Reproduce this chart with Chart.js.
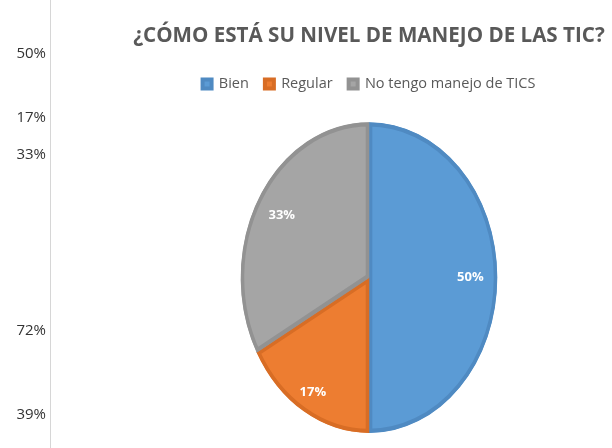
<!DOCTYPE html>
<html>
<head>
<meta charset="utf-8">
<script src="https://cdn.jsdelivr.net/npm/chart.js@4"></script>
<style>
  body { margin: 0; background: #fff; }
  #wrap { position: relative; width: 612px; height: 448px; overflow: hidden; }
  #rule { position: absolute; left: 50px; top: 0; width: 1px; height: 448px; background: #d6d6d6; }
  .side { position: absolute; right: 566px; font: 15px "Open Sans", sans-serif; color: #333; transform: translateY(-50%); }
  canvas { position: absolute; left: 0; top: 0; }
</style>
</head>
<body>
<div id="wrap">
  <div id="rule"></div>
  <canvas id="myChart" width="612" height="448"></canvas>
</div>
<script>
const categories = ['Bien', 'Regular', 'No tengo manejo de TICS'];
const values = [50, 17, 33];
const sliceLabels = ['50%', '17%', '33%'];
// stray numbers from the page at the left edge
const sideLabels = ['50%', '17%', '33%', '72%', '39%'];
const sideTops = [52, 116, 153, 329, 413];

const wrap = document.getElementById('wrap');
sideLabels.forEach((t, i) => {
  const d = document.createElement('div');
  d.className = 'side';
  d.style.top = sideTops[i] + 'px';
  d.textContent = t;
  wrap.appendChild(d);
});

const squeeze = 128 / 155; // the pie is drawn taller than wide

// extra room under the legend
const legendGap = {
  id: 'legendGap',
  beforeInit(chart) {
    const fit = chart.legend.fit;
    chart.legend.fit = function () {
      fit.bind(chart.legend)();
      this.height += 21;
    };
  }
};

const ovalPie = {
  id: 'ovalPie',
  beforeDatasetsDraw(chart) {
    const a = chart.getDatasetMeta(0).data[0];
    const c = chart.ctx;
    c.save();
    c.translate(a.x, 0);
    c.scale(squeeze, 1);
    c.translate(-a.x, 0);
  },
  afterDatasetsDraw(chart) {
    const c = chart.ctx;
    c.restore();
    c.save();
    c.font = 'bold 13px "Open Sans", sans-serif';
    c.fillStyle = '#fff';
    c.textAlign = 'center';
    c.textBaseline = 'middle';
    chart.getDatasetMeta(0).data.forEach((arc, i) => {
      const p = arc.getProps(['x', 'y', 'startAngle', 'endAngle', 'outerRadius']);
      const mid = (p.startAngle + p.endAngle) / 2;
      const r = p.outerRadius * (i === 1 ? 0.86 : 0.79);
      c.fillText(sliceLabels[i], p.x + Math.cos(mid) * r * squeeze, p.y + Math.sin(mid) * r);
    });
    c.restore();
  }
};

new Chart(document.getElementById('myChart'), {
  type: 'pie',
  data: {
    labels: categories,
    datasets: [{
      data: values,
      backgroundColor: ['#5b9bd5', '#ed7d31', '#a5a5a5'],
      borderColor: ['#4f8ac2', '#d86d25', '#929292'],
      borderWidth: 4,
      borderAlign: 'inner'
    }]
  },
  options: {
    responsive: false,
    animation: false,
    layout: { padding: { left: 126, right: 0, top: 0, bottom: 15 } },
    plugins: {
      title: {
        display: true,
        text: '¿CÓMO ESTÁ SU NIVEL DE MANEJO DE LAS TIC?',
        color: '#595959',
        font: { family: '"Open Sans", sans-serif', size: 20.6, weight: 'bold' },
        padding: { top: 24, bottom: 12 }
      },
      legend: {
        position: 'top',
        labels: {
          color: '#595959',
          boxWidth: 9,
          boxHeight: 9,
          padding: 16,
          font: { family: '"Open Sans", sans-serif', size: 14.5 }
        }
      },
      tooltip: { enabled: false }
    }
  },
  plugins: [legendGap, ovalPie]
});
</script>
</body>
</html>
